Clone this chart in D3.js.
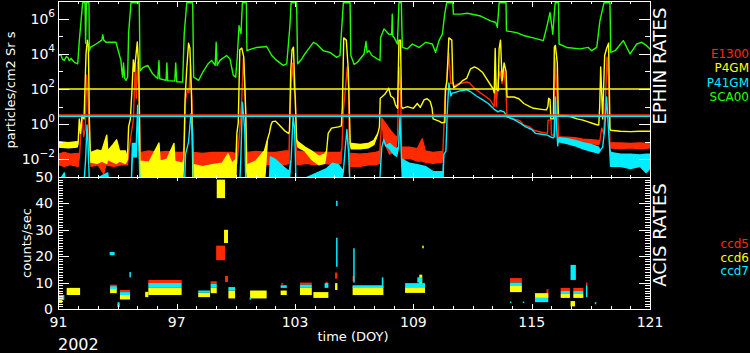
<!DOCTYPE html>
<html>
<head>
<meta charset="utf-8">
<script src="https://cdn.jsdelivr.net/npm/d3@7"></script>
<style>
body { margin: 0; background: #000; }
svg { display: block; background: #000; font-family: "DejaVu Sans", sans-serif; }
.ax line { stroke: #fff; stroke-width: 1; shape-rendering: crispEdges; }
</style>
</head>
<body>
<div id="chart"></div>
<script>
// ---- data ----
// EPHIN rates: [doy, value] or [doy, low, high] for the noisy bands
var e1300 = [
  [91.0,0.005,0.02],[91.3,0.004,0.025],[91.6,0.005,0.02],[92.0,0.004,0.022],
  [92.08,0.02],[92.15,0.5],[92.2,3],[92.28,0.2],[92.36,0.5],[92.43,600],[92.5,30],[92.57,0.1],[92.62,0.02],
  [92.65,0.004,0.015],[93.0,0.005,0.015],[93.3,0.0015,0.012],[93.4,0.005,0.015],[93.8,0.004,0.013],[94.2,0.005,0.012],[94.5,0.005,0.015],
  [94.6,0.05],[94.7,0.32],[94.8,1.7],[94.9,2300],[94.95,30],[95.02,3500],[95.1,35],[95.15,0.02],
  [95.2,0.006,0.025],[95.6,0.007,0.03],[96.0,0.006,0.025],[96.5,0.007,0.028],[97.0,0.006,0.025],[97.33,0.007,0.025],
  [97.38,0.05],[97.45,24],[97.55,90],[97.62,60],[97.7,2300],[97.77,25],[97.83,0.02],
  [97.85,0.005,0.025],[98.3,0.005,0.022],[98.8,0.006,0.025],[99.3,0.005,0.025],[99.8,0.006,0.025],[100.05,0.006,0.02],
  [100.1,0.02],[100.2,0.5],[100.3,30],[100.38,5800],[100.45,200],[100.55,0.02],
  [100.6,0.006,0.025],[101.0,0.006,0.028],[101.5,0.005,0.026],[102.0,0.006,0.025],[102.5,0.005,0.03],[102.7,0.006,0.03],
  [102.72,1],[102.8,200],[102.88,3000],[102.95,100],[103.02,30],[103.08,0.03],
  [103.1,0.005,0.03],[103.6,0.006,0.025],[104.0,0.005,0.026],[104.5,0.006,0.025],[105.0,0.005,0.025],[105.33,0.006,0.025],
  [105.38,0.05],[105.45,6],[105.55,87],[105.65,1800],[105.72,100],[105.76,0.0013],[105.8,0.02],
  [105.85,0.004,0.022],[106.3,0.004,0.02],[106.7,0.005,0.022],[107.1,0.005,0.025],[107.3,0.006,0.03],
  [107.33,0.1],[107.4,2.2],[107.5,0.1,1.5],[107.8,0.02,0.5],[108.1,0.03,0.2],
  [108.2,0.2],[108.27,1800],[108.35,100],[108.4,0.05],
  [108.45,0.01,0.05],[108.8,0.012,0.05],[109.2,0.008,0.04],[109.45,0.008,0.15],[109.6,0.007,0.03],[110.0,0.006,0.025],[110.45,0.007,0.028],
  [110.5,0.03],[110.6,20],[110.7,300],[110.8,11000],[110.9,200],[111.0,220],
  [111.05,150],[111.3,200],[111.5,220],[111.7,250],[111.85,220],[112.1,110],[112.4,60],[112.7,35],[112.9,23],[113.1,10],
  [113.15,1000],[113.2,10],[113.3,300],[113.4,1000],[113.5,200],[113.6,1200],[113.7,60],[113.75,2.5],
  [113.8,2.5],[114.1,2],[114.4,1.6],[114.6,0.9],[114.9,0.7],[115.1,0.45],[115.5,0.35],[115.8,0.3],
  [115.83,1.7],[115.98,1.7],[116.0,0.24],[116.1,0.24],
  [116.14,0.3],[116.18,5800],[116.25,300],[116.32,5],[116.36,0.19],
  [116.4,0.13,0.19],[116.8,0.12,0.18],[117.2,0.11,0.17],[117.6,0.09,0.14],[118.0,0.08,0.13],[118.4,0.07,0.12],
  [118.45,0.1],[118.55,0.6],[118.65,0.3],[118.72,5],[118.82,6500],[118.9,300],[118.97,0.08],
  [119.0,0.045,0.09],[119.5,0.04,0.085],[120.0,0.045,0.08],[120.5,0.04,0.085],[121.0,0.045,0.08]
];

var p4gm = [
  [91.0,0.05,0.1],[91.5,0.045,0.09],[91.95,0.05,0.1],
  [92.0,0.08],[92.06,2],[92.12,0.3],[92.2,3],[92.3,2],[92.4,10000],[92.47,60000],[92.52,30000],[92.57,2],[92.62,0.02],
  [92.65,0.007,0.025],[92.95,0.006,0.034],[93.2,0.008,0.03],[93.45,0.006,0.24],[93.5,0.01,0.03],[93.78,0.007,0.07],[93.95,0.006,0.13],[94.1,0.008,0.03],[94.4,0.006,0.03],
  [94.5,0.01],[94.56,0.7],[94.65,2],[94.73,87],[94.8,4500],[94.85,1000],[94.92,6000],[95.0,47000],[95.08,1200],[95.14,0.003],
  [95.15,0.0005,0.008],[95.6,0.0005,0.007],[96.1,0.0005,0.085],[96.15,0.0005,0.008],[96.5,0.0005,0.01],[96.86,0.0005,0.08],[96.9,0.0005,0.008],[97.3,0.0005,0.006],
  [97.36,0.01],[97.42,24],[97.5,1000],[97.6,40000],[97.67,20000],[97.75,30],[97.82,0.001],
  [97.85,0.0005,0.005],[98.3,0.0005,0.004],[98.8,0.0005,0.005],[99.3,0.0005,0.006],[99.6,0.0005,0.02],[99.8,0.0005,0.006],[100.0,0.0005,0.01],
  [100.05,0.3],[100.12,1.2],[100.2,17000],[100.3,21000],[100.4,6500],[100.5,5],[100.55,0.002],
  [100.6,0.0005,0.005],[101.0,0.0005,0.008],[101.3,0.0005,0.02],[101.45,0.0005,0.03],
  [101.6,0.13],[101.7,0.32],[101.78,0.9],[101.85,1.4],[102.0,1.5],[102.2,0.9],[102.5,0.4],[102.67,0.3],
  [102.72,0.4],[102.78,1000],[102.85,17000],[102.92,24000],[103.0,50],[103.08,0.13],
  [103.15,0.05,0.1],[103.5,0.03,0.05],[103.85,0.01,0.03],[104.2,0.005,0.015],[104.5,0.006,0.02],
  [104.6,0.03],[104.68,0.3],[104.85,0.6],[105.2,0.7],[105.35,0.8],
  [105.4,10],[105.47,80000],[105.6,60000],[105.7,1200],[105.8,0.08],
  [105.85,0.04,0.08],[106.3,0.04,0.07],[106.7,0.045,0.08],[107.0,0.07,0.12],[107.2,0.3],[107.28,0.7],
  [107.32,30],[107.4,35],[107.55,50],[107.75,110],[107.85,40],[108.0,30],[108.1,12],
  [108.2,8],[108.27,60000],[108.35,60000],[108.4,10],
  [108.45,8],[108.7,10],[109.0,8],[109.2,15],[109.35,9],[109.55,25],[109.7,28],[109.85,20],[109.95,8],
  [110.0,2],[110.3,1.5],[110.45,1.2],[110.6,1.3],[110.62,80],[110.7,300],[110.8,80000],[110.95,60000],[111.0,300],
  [111.05,120],[111.3,180],[111.5,300],[111.7,400],[111.9,1400],[112.1,1800],[112.25,1500],[112.5,900],[112.7,400],[112.9,180],[113.05,100],
  [113.1,60],[113.15,20000],[113.2,100],[113.3,80],[113.35,20000],[113.42,60000],[113.5,300],[113.6,3000],[113.7,1000],[113.75,35],
  [113.8,35],[114.1,35],[114.35,28],[114.6,15],[114.9,10],[115.1,8],[115.5,7],[115.75,6.5],
  [115.82,10],[115.86,30],[115.93,25],[115.97,2],[116.1,2],
  [116.15,24000],[116.2,30000],[116.3,3000],[116.35,3.5],
  [116.4,3.2],[116.7,3],[117.0,2.6],[117.3,2],[117.6,1.7],[117.9,1.3],[118.1,1.1],[118.35,0.9],
  [118.4,0.9],[118.45,10],[118.5,1800],[118.6,2],[118.7,8000],[118.8,20000],[118.9,40000],[118.97,0.6],
  [119.0,0.45],[119.5,0.4],[120.0,0.38],[120.5,0.4],[121.0,0.4]
];

var p41gm = [
  [91.0,0.0005],[91.3,0.0005,0.0017],[91.35,0.0005],[92.3,0.0005],
  [92.38,0.01],[92.45,0.9],[92.5,0.1],[92.57,0.0005],
  [93.5,0.0005,0.0017],[93.55,0.0005],[94.7,0.0005],
  [94.75,0.014,0.08],[94.95,0.014,0.08],[95.02,12],[95.08,0.05],[95.14,0.0005],
  [97.4,0.0005],[97.45,0.02],[97.6,0.1],[97.72,4],[97.8,0.3],[97.85,0.0005],
  [100.2,0.0005],[100.25,0.01],[100.33,18],[100.45,0.5],[100.5,0.0005],
  [101.7,0.0005],[101.75,0.0005,0.014],[102.0,0.0005,0.01],[102.4,0.0005,0.004],[102.7,0.0005,0.002],
  [102.8,0.01],[102.9,2.6],[102.98,0.5],[103.05,0.0005],
  [104.6,0.0005,0.003],[104.9,0.0005,0.006],[105.2,0.0005,0.005],[105.35,0.0005,0.003],
  [105.45,0.002],[105.55,0.05],[105.63,0.5],[105.72,0.02],[105.78,0.0005],
  [107.3,0.0005],[107.32,0.002],[107.4,0.05],[107.5,0.13],[107.6,0.06],[107.8,0.04,0.08],[108.0,0.02,0.05],[108.15,0.015,0.04],
  [108.25,0.05],[108.32,2.6],[108.4,0.01],
  [108.45,0.0005,0.01],[108.8,0.0005,0.006],[109.2,0.0005,0.005],[109.6,0.0005,0.004],[110.0,0.0005,0.002],[110.5,0.0005,0.002],
  [110.55,0.02],[110.65,0.03],[110.72,5],[110.8,220],[110.9,40],[110.97,60],
  [111.05,60],[111.4,80],[111.7,90],[111.9,70],[112.2,40],[112.5,25],[112.8,15],[113.1,7],[113.3,5],[113.4,6],[113.6,5],
  [113.75,2.6],[114.1,1.8],[114.4,1.2],[114.7,0.7],[115.0,0.5],[115.2,0.3],[115.5,0.27],[115.8,0.24],[116.0,0.18],[116.1,0.17],
  [116.15,0.2],[116.2,35],[116.27,0.5],[116.32,0.06],[116.36,0.15],
  [116.4,0.1,0.17],[116.8,0.08,0.15],[117.2,0.06,0.12],[117.6,0.04,0.09],[118.0,0.03,0.07],[118.4,0.023,0.05],
  [118.45,0.03],[118.6,0.05],[118.7,0.5],[118.8,35],[118.88,1],[118.95,0.05],
  [119.0,0.004,0.025],[119.5,0.004,0.02],[120.0,0.003,0.02],[120.5,0.004,0.018],[120.8,0.0018,0.02],[121.0,0.003,0.02]
];

var sca00 = [
  [91.0,8e3],[91.13,9e3],[91.2,5e3],[91.3,4.2e3],[91.4,7e3],[91.47,6.3e3],[91.55,4e3],[91.64,5.4e3],[91.81,3.3e3],[91.98,2.7e3],
  [92.06,5.6e4],[92.15,7.5e5],[92.23,8e6],[92.35,8e6],[92.38,4e4],[92.42,8e6],[92.55,8e6],[92.57,1.5e4],[92.62,2.3e4],[92.91,3.6e4],
  [93.2,6e4],[93.25,1.2e5],[93.3,6e4],[93.41,4.5e4],[93.92,4.5e4],[94.01,1.9e4],[94.17,4.2e3],[94.22,1e3],[94.26,470],[94.3,3e3],
  [94.36,400],[94.43,310],[94.51,470],[94.56,1.4e5],[94.68,8e6],[95.10,8e6],[95.14,1.1e3],[95.31,1.7e3],[95.53,2.2e3],[95.78,730],
  [96.04,380],[96.1,4e3],[96.14,380],[96.46,310],[96.5,3e3],[96.54,300],[96.9,280],[96.95,3e3],[97.0,260],[97.30,245],
  [97.38,1.4e5],[97.51,8e6],[97.81,8e6],[97.86,470],[98.11,310],[98.32,900],[98.43,1.4e3],[98.59,2.7e3],[98.77,4.2e3],[98.95,2.2e3],
  [99.0,4.5e4],[99.05,2.2e3],[99.19,4.2e3],[99.53,8e3],[99.70,5.1e3],[99.87,590],[99.99,470],[100.07,6.3e3],[100.16,3.9e5],[100.26,1.4e5],
  [100.33,8e6],[100.53,8e6],[100.56,1.5e4],[100.80,1.9e4],[101.06,2.3e4],[101.56,2.6e4],[101.82,8e3],[102.07,4.2e3],[102.40,2.2e3],[102.58,2.7e3],
  [102.74,3.9e5],[102.80,8e6],[103.08,8e6],[103.13,2.7e3],[103.34,5.1e3],[103.50,9.8e3],[103.93,4.5e4],[104.10,3.6e4],[104.43,1.5e4],[104.77,1.2e4],
  [105.11,6.3e3],[105.28,8e3],[105.37,3.2e5],[105.45,8e6],[105.79,8e6],[105.83,8e3],[106.0,2.5e3],[106.16,3.3e3],[106.5,9.8e3],[106.6,5e4],
  [106.65,1.2e4],[106.75,1.5e4],[106.9,8e3],[107.17,5.1e3],[107.31,4.2e3],[107.34,8.5e4],[107.51,2.6e5],[107.76,1.3e5],[107.9,1.3e5],[107.93,1.8e6],
  [107.96,1e5],[108.02,8.5e4],[108.19,3.6e4],[108.27,8e6],[108.39,8e6],[108.44,2.3e4],[108.69,1.9e4],[108.95,3.6e4],[109.29,2.3e4],[109.63,4.5e4],
  [109.96,3.6e4],[110.13,1.2e4],[110.30,5.6e4],[110.47,1.3e5],[110.59,1.8e6],[110.69,8e6],[111.00,8e6],[111.03,1.8e6],[111.40,1.8e6],[111.74,2e6],
  [112.41,1.4e6],[112.92,7.5e5],[113.18,6e5],[113.26,3.2e5],[113.35,8e6],[113.70,8e6],[113.72,2e5],[114.24,1.6e5],[114.58,1.1e5],[115.08,8e4],
  [115.59,5.6e4],[115.76,3.2e5],[115.93,2.2e6],[116.07,1.3e5],[116.19,8e6],[116.36,8e6],[116.39,3.6e4],[116.78,2.3e4],[117.45,1.9e4],[117.87,2.3e4],
  [118.04,1.5e4],[118.30,2.3e4],[118.46,7.5e5],[118.67,8e6],[118.97,8e6],[119.01,1.2e4],[119.23,1.5e4],[119.65,5.6e4],[119.99,9.8e3],[120.33,3.6e4],
  [120.58,4.5e4],[120.83,2.9e4],[121.0,1.9e4]
];

// limit lines in the EPHIN panel
var ephinLimits = [
  {value: 100, color: "#ffff00"},
  {value: 3.3, color: "#ff2a00"},
  {value: 2.8, color: "#00eeff"}
];

// ACIS rates: clusters of points [doy start, doy end, low, high]
var ccd5 = [
  [91.0,91.1,6.0,7.0],[93.62,93.96,8.0,9.2],[94.12,94.63,6.4,7.2],[95.56,97.25,9.3,11],[98.72,99.03,9.5,10.5],
  [99.0,99.45,18.5,24],[99.45,99.6,10.2,12.5],[102.3,102.4,9.2,9.8],[103.25,103.85,9.2,10],[104.55,104.65,9.5,10.3],
  [105.03,105.15,11.5,13.8],[105.92,106.02,10.5,12.5],[113.9,114.5,10,11.7],[115.75,115.85,4,7.5],
  [116.47,116.94,6.8,8],[117.11,117.62,6.8,8],[117.75,117.82,9,10]
];
var ccd6 = [
  [91.0,91.2,2.3,3.6],[91.42,92.1,5.3,8],[93.62,93.96,6,8],[94.12,94.63,3.6,5.3],[94.0,94.1,0.8,2],
  [95.4,95.56,4.5,6.5],[95.56,97.25,5.3,8],[98.09,98.69,4.5,6.2],[98.72,99.03,6,8],[99.03,99.45,42,49],
  [99.4,99.6,25,30],[99.62,99.96,4,7],[100.72,101.56,4,7],[102.27,102.58,5.3,7],[103.25,103.85,5.3,8],
  [103.93,104.69,4.2,6.4],[105.03,105.15,7.2,9.8],[105.92,107.48,5.3,8.5],[108.58,109.59,6.1,8.3],
  [109.3,109.45,9,13],[109.45,109.5,23,24],[113.9,114.5,6.4,9],[115.17,115.84,4.2,6],
  [116.47,116.94,4.2,5.7],[117.11,117.62,4.2,5.7],[116.97,117.2,1,3]
];
var ccd7 = [
  [91.0,91.3,3.4,5.3],[93.6,93.85,20.4,21.6],[93.62,93.96,7.5,8.6],[94.12,94.63,5.3,6.4],[94.0,94.1,1.5,2.6],
  [94.6,94.66,12,14],[95.56,97.25,8,9.8],[98.09,98.69,6.2,7],[98.72,99.03,8,9.5],[99.62,99.96,7,8.3],
  [100.7,100.76,3.5,4.5],[102.27,102.58,8,9],[103.25,103.85,8,9.2],[104.5,104.69,8,9.8],[105.08,105.15,16,27],
  [105.08,105.12,39,41],[105.92,107.48,8,9],[105.95,106.0,10,23],[107.4,107.48,8.5,12],[108.58,109.59,8,9.8],
  [109.2,109.45,10,12],[113.9,114.5,9,10],[113.9,113.95,2.3,2.8],[114.55,114.62,2.3,2.8],[115.17,115.84,2.6,4.2],
  [116.47,116.94,5.7,6.8],[116.97,117.24,11,16.7],[117.11,117.62,5.7,6.8],[117.75,117.82,4.5,9],[118.2,118.25,1.8,2.6]
];

var ephinSeries = [
  {name: "E1300", data: e1300, color: "#ff2a00"},
  {name: "P4GM",  data: p4gm,  color: "#ffff00"},
  {name: "P41GM", data: p41gm, color: "#00eeff"},
  {name: "SCA00", data: sca00, color: "#22ff00"}
];
var acisSeries = [
  {name: "ccd5", data: ccd5, color: "#ff2a00"},
  {name: "ccd6", data: ccd6, color: "#ffff00"},
  {name: "ccd7", data: ccd7, color: "#00eeff"}
];

var xTicksMajor = [91, 97, 103, 109, 115, 121];
var logLabelExp = [-2, 0, 2, 4, 6];
var logMinorExp = [-1, 1, 3, 5];

// ---- layout ----
var W = 750, H = 353;
var left = 58.4, right = 650;
var topY0 = 1, topY1 = 177, botY0 = 177, botY1 = 309;

var svg = d3.select("#chart").append("svg")
    .attr("width", W).attr("height", H);

var x = d3.scaleLinear().domain([91, 121]).range([left, right]);
var yTop = d3.scaleLog().domain([1e-3, 1e7]).range([topY1, topY0]);
var yBot = d3.scaleLinear().domain([0, 50]).range([botY1, botY0]);

var defs = svg.append("defs");
defs.append("clipPath").attr("id", "clipTop").append("rect")
    .attr("x", left).attr("y", topY0).attr("width", right - left).attr("height", topY1 - topY0);
defs.append("clipPath").attr("id", "clipBot").append("rect")
    .attr("x", left).attr("y", botY0).attr("width", right - left).attr("height", botY1 - botY0);

// EPHIN curves
var gTop = svg.append("g").attr("clip-path", "url(#clipTop)");
var area = d3.area()
    .x(function(d) { return x(d[0]); })
    .y0(function(d) { return yTop(d[1]); })
    .y1(function(d) { return yTop(d.length > 2 ? d[2] : d[1]); });

ephinSeries.forEach(function(s) {
    gTop.append("path")
        .attr("d", area(s.data))
        .attr("fill", s.color)
        .attr("stroke", s.color)
        .attr("stroke-width", 1.4)
        .attr("stroke-linejoin", "round");
});

ephinLimits.forEach(function(l) {
    gTop.append("line")
        .attr("x1", left).attr("x2", right)
        .attr("y1", yTop(l.value)).attr("y2", yTop(l.value))
        .attr("stroke", l.color).attr("stroke-width", 1.5);
});

// ACIS clusters
var gBot = svg.append("g").attr("clip-path", "url(#clipBot)");
acisSeries.forEach(function(s) {
    gBot.selectAll(null).data(s.data).enter().append("rect")
        .attr("x", function(d) { return x(d[0]); })
        .attr("width", function(d) { return Math.max(1.5, x(d[1]) - x(d[0])); })
        .attr("y", function(d) { return yBot(d[3]); })
        .attr("height", function(d) { return Math.max(1.5, yBot(d[2]) - yBot(d[3])); })
        .attr("fill", s.color);
});

// ---- axes ----
function addAxis(axis, tx, ty) {
    var g = svg.append("g").attr("class", "ax")
        .attr("transform", "translate(" + tx + "," + ty + ")")
        .call(axis);
    g.select(".domain").remove();
    g.selectAll("text").remove();
}
var dayTicks = d3.range(91, 122);
var minorDays = dayTicks.filter(function(d) { return xTicksMajor.indexOf(d) < 0; });

// x ticks on top edge, divider and bottom edge
addAxis(d3.axisTop(x).tickValues(xTicksMajor).tickSize(-6), 0, topY0);
addAxis(d3.axisTop(x).tickValues(minorDays).tickSize(-3), 0, topY0);
addAxis(d3.axisBottom(x).tickValues(xTicksMajor).tickSize(-4), 0, topY1);
addAxis(d3.axisBottom(x).tickValues(minorDays).tickSize(-2), 0, topY1);
addAxis(d3.axisTop(x).tickValues(xTicksMajor).tickSize(-4), 0, botY0);
addAxis(d3.axisTop(x).tickValues(minorDays).tickSize(-2), 0, botY0);
addAxis(d3.axisBottom(x).tickValues(xTicksMajor).tickSize(-5), 0, botY1);
addAxis(d3.axisBottom(x).tickValues(minorDays).tickSize(-3), 0, botY1);

// log axis, top panel
var logMajor = logLabelExp.map(function(e) { return Math.pow(10, e); });
var logMinor = logMinorExp.map(function(e) { return Math.pow(10, e); });
addAxis(d3.axisLeft(yTop).tickValues(logMajor).tickSize(-11), left, 0);
addAxis(d3.axisLeft(yTop).tickValues(logMinor).tickSize(-5), left, 0);
addAxis(d3.axisRight(yTop).tickValues(logMajor).tickSize(-11), right, 0);
addAxis(d3.axisRight(yTop).tickValues(logMinor).tickSize(-5), right, 0);

// linear axis, bottom panel
var cntMajor = d3.range(0, 51, 10);
var cntMinor = d3.range(1, 50).filter(function(v) { return v % 10 !== 0; });
addAxis(d3.axisLeft(yBot).tickValues(cntMajor).tickSize(-11), left, 0);
addAxis(d3.axisLeft(yBot).tickValues(cntMinor).tickSize(-5), left, 0);
addAxis(d3.axisRight(yBot).tickValues(cntMajor).tickSize(-11), right, 0);
addAxis(d3.axisRight(yBot).tickValues(cntMinor).tickSize(-5), right, 0);

// frames
[[topY0, topY1], [botY0, botY1]].forEach(function(p) {
    svg.append("rect")
        .attr("x", left).attr("y", p[0])
        .attr("width", right - left).attr("height", p[1] - p[0])
        .attr("fill", "none").attr("stroke", "#fff").attr("stroke-width", 1)
        .attr("shape-rendering", "crispEdges");
});

// ---- labels ----
var white = "#fff";

logLabelExp.forEach(function(e) {
    var t = svg.append("text")
        .attr("x", 55).attr("y", yTop(Math.pow(10, e)) + 5)
        .attr("text-anchor", "end").attr("fill", white)
        .style("font-size", "14px");
    t.append("tspan").text("10");
    t.append("tspan").attr("dy", -7).style("font-size", "10.5px")
        .text(e < 0 ? "\u2212" + (-e) : e);
});

cntMajor.forEach(function(v) {
    svg.append("text")
        .attr("x", 53).attr("y", yBot(v) + 5)
        .attr("text-anchor", "end").attr("fill", white)
        .style("font-size", "14px")
        .text(v);
});

xTicksMajor.forEach(function(v) {
    svg.append("text")
        .attr("x", x(v)).attr("y", 327)
        .attr("text-anchor", "middle").attr("fill", white)
        .style("font-size", "14px")
        .text(v);
});

svg.append("text").attr("x", 353).attr("y", 341)
    .attr("text-anchor", "middle").attr("fill", white)
    .style("font-size", "13px").text("time (DOY)");

svg.append("text").attr("x", 58).attr("y", 350)
    .attr("fill", white).style("font-size", "16px").text("2002");

svg.append("text")
    .attr("transform", "translate(15,90) rotate(-90)")
    .attr("text-anchor", "middle").attr("fill", white)
    .style("font-size", "13px").text("particles/cm2 Sr s");

svg.append("text")
    .attr("transform", "translate(31,243) rotate(-90)")
    .attr("text-anchor", "middle").attr("fill", white)
    .style("font-size", "13px").text("counts/sec");

svg.append("text")
    .attr("transform", "translate(666,66) rotate(-90)")
    .attr("text-anchor", "middle").attr("fill", white)
    .style("font-size", "18px").text("EPHIN RATES");

svg.append("text")
    .attr("transform", "translate(666,235) rotate(-90)")
    .attr("text-anchor", "middle").attr("fill", white)
    .style("font-size", "18px").text("ACIS RATES");

// legends
ephinSeries.forEach(function(s, i) {
    svg.append("text")
        .attr("x", 749).attr("y", 58 + i * 14.3)
        .attr("text-anchor", "end").attr("fill", s.color)
        .style("font-size", "12px").text(s.name);
});
acisSeries.forEach(function(s, i) {
    svg.append("text")
        .attr("x", 749).attr("y", 248 + i * 13.5)
        .attr("text-anchor", "end").attr("fill", s.color)
        .style("font-size", "12px").text(s.name);
});
</script>
</body>
</html>
